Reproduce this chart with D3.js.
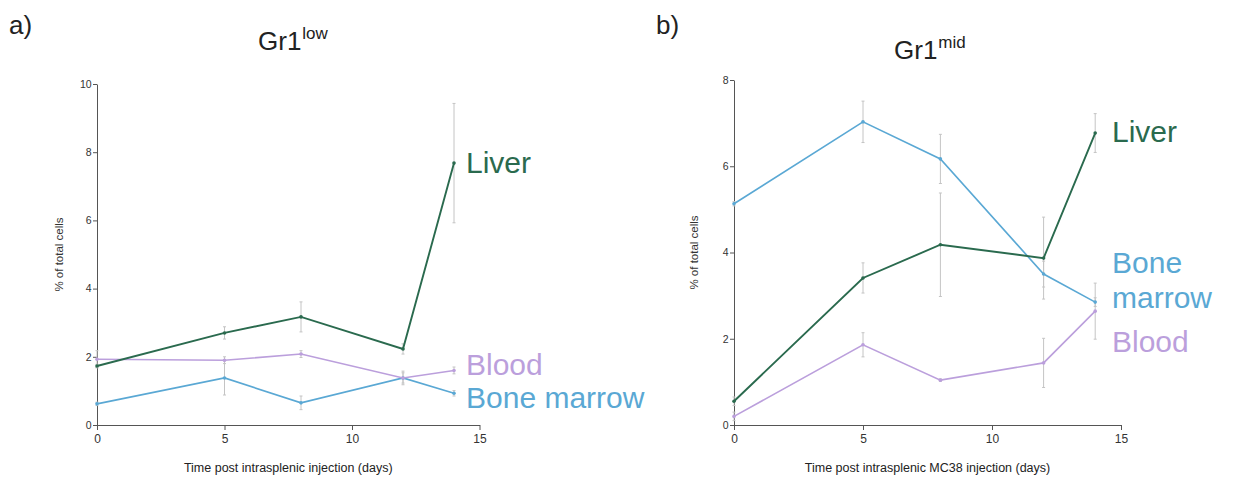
<!DOCTYPE html>
<html>
<head>
<meta charset="utf-8">
<script src="https://cdn.jsdelivr.net/npm/d3@7"></script>
<style>
  body { margin: 0; background: #fff; }
  svg text { font-family: "Liberation Sans", Arial, sans-serif; }
</style>
</head>
<body>
<svg id="chart" width="1235" height="481"></svg>
<script>
// time points (days post injection)
var days = [0, 5, 8, 12, 14];

// Gr1 low panel
var lowLiver = [1.73, 2.7, 3.17, 2.23, 7.68];
var lowLiverErr = [0.05, 0.18, 0.44, 0.15, 1.75];
var lowBlood = [1.93, 1.9, 2.08, 1.38, 1.6];
var lowBloodErr = [0.25, 0.1, 0.1, 0.15, 0.1];
var lowMarrow = [0.62, 1.38, 0.65, 1.38, 0.93];
var lowMarrowErr = [0.05, 0.5, 0.2, 0.2, 0.08];

// Gr1 mid panel
var midLiver = [0.55, 3.41, 4.18, 3.87, 6.77];
var midLiverErr = [0.1, 0.35, 1.2, 0.95, 0.45];
var midBlood = [0.2, 1.86, 1.04, 1.44, 2.64];
var midBloodErr = [0.1, 0.28, 0.03, 0.57, 0.65];
var midMarrow = [5.13, 7.03, 6.17, 3.5, 2.85];
var midMarrowErr = [0.05, 0.48, 0.57, 0.3, 0.1];

var xTicks = [0, 5, 10, 15];
var lowYTicks = [0, 2, 4, 6, 8, 10];
var midYTicks = [0, 2, 4, 6, 8];

var colLiver = "#2a6a4e", colBlood = "#bb9fdc", colMarrow = "#5aa8d4";

var svg = d3.select("#chart");

function drawPanel(p){
	var x = d3.scaleLinear().domain([0, 15]).range([p.left, p.right]);
	var y = d3.scaleLinear().domain([0, p.ymax]).range([p.bottom, p.top]);
	var g = svg.append("g");

	// axes
	var xa = g.append("g")
		.attr("transform", "translate(0," + p.bottom + ")")
		.call(d3.axisBottom(x).tickValues(xTicks).tickSize(5).tickSizeOuter(0));
	xa.selectAll("text").attr("font-size", 12).attr("fill", "#333").attr("dy", "0.85em");
	var ya = g.append("g")
		.attr("transform", "translate(" + p.left + ",0)")
		.call(d3.axisLeft(y).tickValues(p.yTicks).tickSize(4).tickSizeOuter(0));
	ya.selectAll("text").attr("font-size", 10.5).attr("fill", "#333").attr("dx", "0.15em");
	g.selectAll(".domain, .tick line").attr("stroke", "#555").attr("stroke-width", 1);

	// error bars first, lines over them
	p.series.forEach(function(s){
		var eb = g.append("g");
		days.forEach(function(d, i){
			var cx = x(d), y1 = y(s.values[i] + s.err[i]), y2 = y(Math.max(0, s.values[i] - s.err[i]));
			eb.append("line").attr("x1", cx).attr("x2", cx).attr("y1", y1).attr("y2", y2)
				.attr("stroke", "#c4c4c4").attr("stroke-width", 1);
			[y1, y2].forEach(function(yy){
				eb.append("line").attr("x1", cx - 1.5).attr("x2", cx + 1.5).attr("y1", yy).attr("y2", yy)
					.attr("stroke", "#c4c4c4").attr("stroke-width", 1);
			});
		});
	});

	p.series.forEach(function(s){
		var line = d3.line().x(function(d){ return x(d[0]); }).y(function(d){ return y(d[1]); });
		g.append("path")
			.datum(d3.zip(days, s.values))
			.attr("d", line)
			.attr("fill", "none")
			.attr("stroke", s.color)
			.attr("stroke-width", s.width);
		g.selectAll(null).data(d3.zip(days, s.values)).enter().append("circle")
			.attr("cx", function(d){ return x(d[0]); })
			.attr("cy", function(d){ return y(d[1]); })
			.attr("r", 1.8)
			.attr("fill", s.color);
		s.label.forEach(function(t, k){
			g.append("text").attr("x", p.labelX).attr("y", s.labelY[k])
				.attr("font-size", 30).attr("fill", s.color).text(t);
		});
	});

	// titles
	g.append("text").attr("x", p.panelX).attr("y", 34).attr("font-size", 26).attr("fill", "#222").text(p.panel);
	var tt = g.append("text").attr("x", p.titleX).attr("y", p.titleY).attr("font-size", 26).attr("fill", "#222");
	tt.append("tspan").text("Gr1");
	tt.append("tspan").attr("font-size", 17).attr("dy", -11).attr("dx", 1).text(p.sup);

	g.append("text")
		.attr("transform", "translate(" + p.ylabX + "," + ((p.top + p.bottom) / 2) + ") rotate(-90)")
		.attr("text-anchor", "middle").attr("font-size", 11.5).attr("fill", "#333")
		.text("% of total cells");
	g.append("text")
		.attr("x", (p.left + p.right) / 2).attr("y", 472)
		.attr("text-anchor", "middle").attr("font-size", 12.5).attr("fill", "#222")
		.text(p.xlab);
}

drawPanel({
	left: 97, right: 479.5, top: 84, bottom: 425, ymax: 10, yTicks: lowYTicks,
	panel: "a)", panelX: 9, sup: "low", titleX: 258, titleY: 50, ylabX: 63,
	xlab: "Time post intrasplenic injection (days)", labelX: 466,
	series: [
		{ values: lowMarrow, err: lowMarrowErr, color: colMarrow, width: 1.6, label: ["Bone marrow"], labelY: [408] },
		{ values: lowBlood, err: lowBloodErr, color: colBlood, width: 1.6, label: ["Blood"], labelY: [375] },
		{ values: lowLiver, err: lowLiverErr, color: colLiver, width: 1.9, label: ["Liver"], labelY: [173] }
	]
});

drawPanel({
	left: 734, right: 1121, top: 80, bottom: 425, ymax: 8, yTicks: midYTicks,
	panel: "b)", panelX: 656, sup: "mid", titleX: 894, titleY: 59, ylabX: 698,
	xlab: "Time post intrasplenic MC38 injection (days)", labelX: 1112,
	series: [
		{ values: midBlood, err: midBloodErr, color: colBlood, width: 1.6, label: ["Blood"], labelY: [352] },
		{ values: midMarrow, err: midMarrowErr, color: colMarrow, width: 1.6, label: ["Bone", "marrow"], labelY: [273, 308] },
		{ values: midLiver, err: midLiverErr, color: colLiver, width: 1.9, label: ["Liver"], labelY: [142] }
	]
});
</script>
</body>
</html>
